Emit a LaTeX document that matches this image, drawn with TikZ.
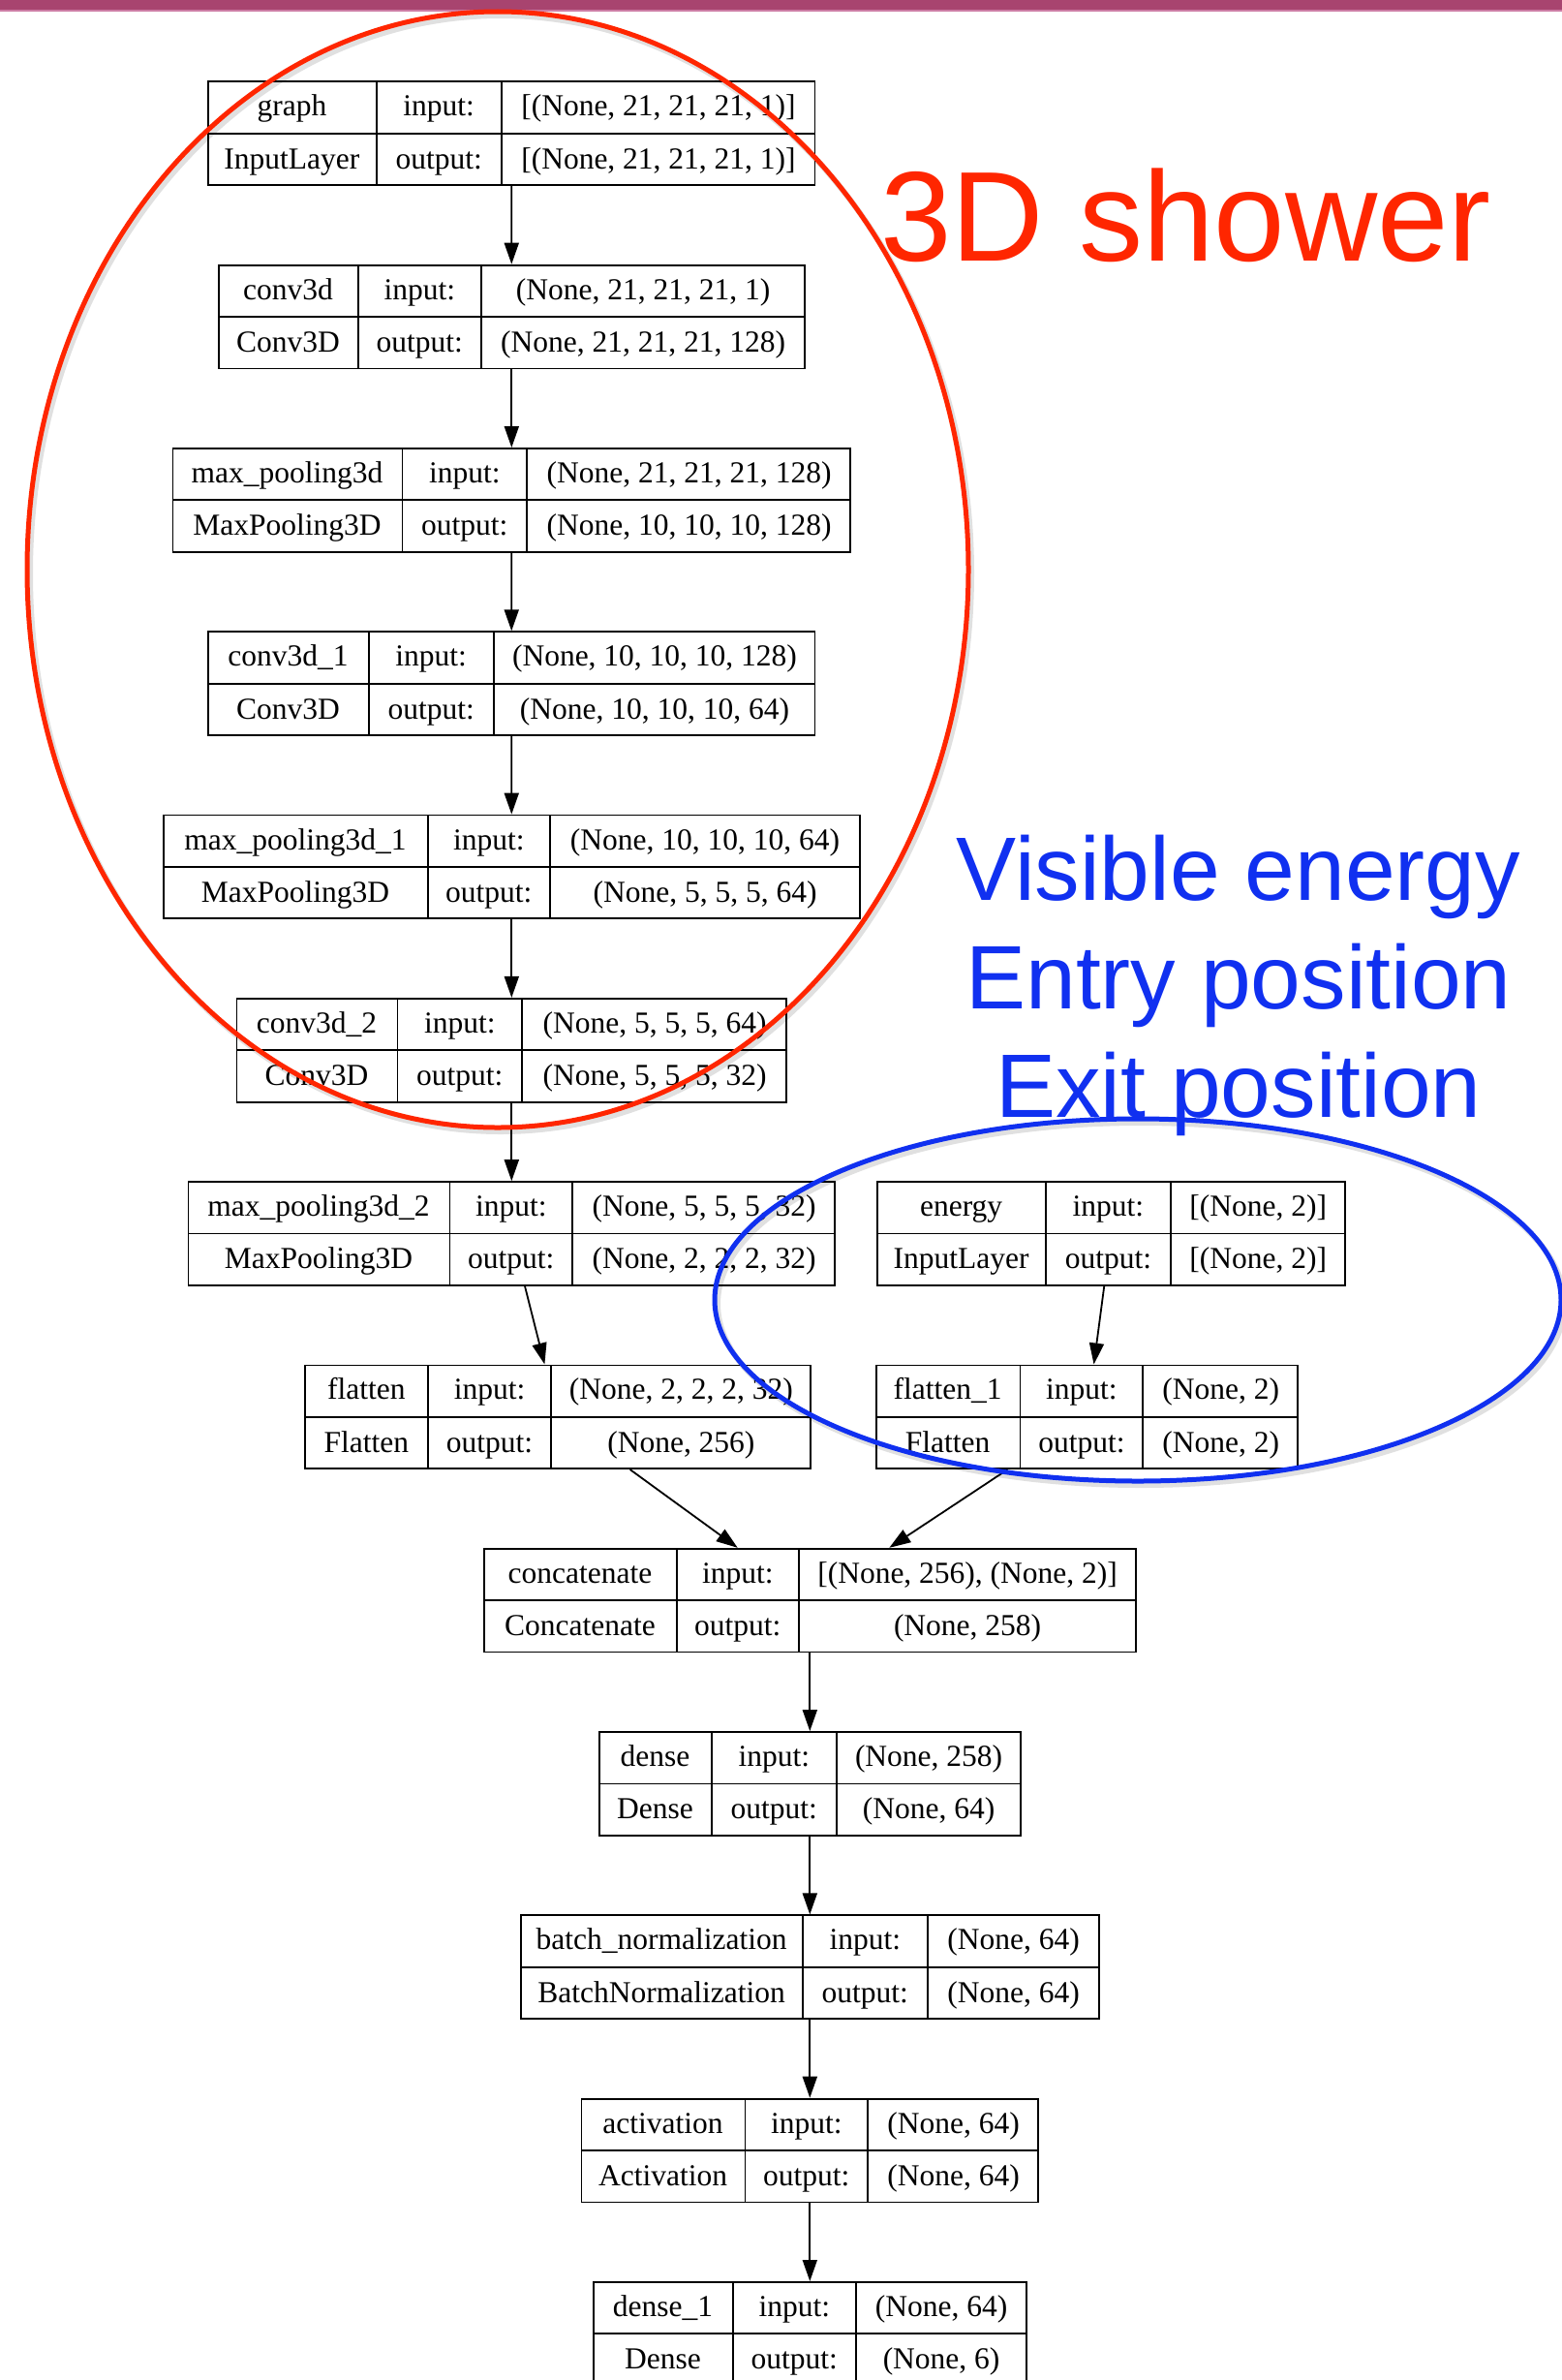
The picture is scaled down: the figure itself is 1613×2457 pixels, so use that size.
\documentclass[tikz,border=0pt]{standalone}
\usepackage{fontspec}
\setmainfont{Liberation Serif}
\newfontfamily\slidefont{Liberation Sans}
\usepackage{array}
\usetikzlibrary{arrows.meta}

\definecolor{slidebar}{RGB}{168,68,111}
\definecolor{slidebarlight}{RGB}{205,125,165}
\definecolor{ringred}{RGB}{255,38,0}
\definecolor{ringblue}{RGB}{16,48,240}

% one keras layer: three columns, two rows
\newcolumntype{C}[1]{>{\centering\arraybackslash}p{#1}}
\newcommand{\rowstrut}{\rule[-17pt]{0pt}{52.5pt}}
\newcommand{\layertab}[7]{%
  \begin{tabular}{C{#1pt}|C{#2pt}|C{#3pt}}
    \rowstrut #4 & input: & #6 \\ \hline
    \rowstrut #5 & output: & #7
  \end{tabular}}
\setlength{\tabcolsep}{0pt}
\setlength{\arrayrulewidth}{1.8pt}

\begin{document}
\begin{tikzpicture}[x=1pt, y=-1pt, >={Triangle[length=22pt,width=15pt]},
    layer/.style={draw, line width=1.8pt, inner sep=0pt, font=\fontsize{31.5}{36}\selectfont},
    flow/.style={->, line width=1.8pt},
    ring/.style={line width=5pt},
    ringshadow/.style={line width=6pt, black, opacity=0.12}]
    \useasboundingbox (0,0) rectangle (1613,2457);
    \clip (0,0) rectangle (1613,2457);

    % slide header bar
    \fill[slidebar] (0,0) rectangle (1613,10);
    \fill[slidebarlight] (0,10) rectangle (1613,12);

    % shower branch
    \node[layer] (graph) at (528.2,137.7)
        {\layertab{173}{127}{323}{graph}{InputLayer}{[(None, 21, 21, 21, 1)]}{[(None, 21, 21, 21, 1)]}};
    \node[layer] (conv3d) at (528.3,327.0)
        {\layertab{143}{125}{333}{conv3d}{Conv3D}{(None, 21, 21, 21, 1)}{(None, 21, 21, 21, 128)}};
    \node[layer] (maxpool3d) at (528.3,516.3)
        {\layertab{236}{127}{333}{max\_pooling3d}{MaxPooling3D}{(None, 21, 21, 21, 128)}{(None, 10, 10, 10, 128)}};
    \node[layer] (conv3d1) at (528.2,705.6)
        {\layertab{165}{127}{331}{conv3d\_1}{Conv3D}{(None, 10, 10, 10, 128)}{(None, 10, 10, 10, 64)}};
    \node[layer] (maxpool3d1) at (528.3,894.9)
        {\layertab{272}{124}{319}{max\_pooling3d\_1}{MaxPooling3D}{(None, 10, 10, 10, 64)}{(None, 5, 5, 5, 64)}};
    \node[layer] (conv3d2) at (528.3,1084.2)
        {\layertab{165}{127}{272}{conv3d\_2}{Conv3D}{(None, 5, 5, 5, 64)}{(None, 5, 5, 5, 32)}};
    \node[layer] (maxpool3d2) at (528.3,1273.5)
        {\layertab{269}{125}{270}{max\_pooling3d\_2}{MaxPooling3D}{(None, 5, 5, 5, 32)}{(None, 2, 2, 2, 32)}};
    \node[layer] (flatten) at (576.1,1462.8)
        {\layertab{126}{125}{267}{flatten}{Flatten}{(None, 2, 2, 2, 32)}{(None, 256)}};

    % scalar branch
    \node[layer] (energy) at (1147.4,1273.5)
        {\layertab{173}{127}{179}{energy}{InputLayer}{[(None, 2)]}{[(None, 2)]}};
    \node[layer] (flatten1) at (1122.4,1462.8)
        {\layertab{148}{125}{159}{flatten\_1}{Flatten}{(None, 2)}{(None, 2)}};

    % merged head
    \node[layer] (concat) at (836.3,1652.1)
        {\layertab{198}{124}{347}{concatenate}{Concatenate}{[(None, 256), (None, 2)]}{(None, 258)}};
    \node[layer] (dense) at (836.3,1841.4)
        {\layertab{115}{127}{189}{dense}{Dense}{(None, 258)}{(None, 64)}};
    \node[layer] (batchnorm) at (836.3,2030.7)
        {\layertab{290}{127}{176}{batch\_normalization}{BatchNormalization}{(None, 64)}{(None, 64)}};
    \node[layer] (activation) at (836.3,2220.0)
        {\layertab{168}{125}{175}{activation}{Activation}{(None, 64)}{(None, 64)}};
    \node[layer] (dense1) at (836.3,2409.3)
        {\layertab{143}{125}{175}{dense\_1}{Dense}{(None, 64)}{(None, 6)}};

    \draw[flow] (graph) -- (conv3d);
    \draw[flow] (conv3d) -- (maxpool3d);
    \draw[flow] (maxpool3d) -- (conv3d1);
    \draw[flow] (conv3d1) -- (maxpool3d1);
    \draw[flow] (maxpool3d1) -- (conv3d2);
    \draw[flow] (conv3d2) -- (maxpool3d2);
    \draw[flow] (maxpool3d2) -- (flatten);
    \draw[flow] (energy) -- (flatten1);
    \draw[flow] (flatten) -- (concat);
    \draw[flow] (flatten1) -- (concat);
    \draw[flow] (concat) -- (dense);
    \draw[flow] (dense) -- (batchnorm);
    \draw[flow] (batchnorm) -- (activation);
    \draw[flow] (activation) -- (dense1);

    % hand-drawn highlight rings
    \draw[ringshadow] (517,592) ellipse [x radius=486, y radius=576];
    \draw[ring, ringred] (514,588) ellipse [x radius=486, y radius=576];
    \draw[ringshadow] (1178,1346) ellipse [x radius=437, y radius=187];
    \draw[ring, ringblue] (1175,1342) ellipse [x radius=437, y radius=187];

    \node[anchor=base west, inner sep=0pt, text=ringred,
        font=\slidefont\fontsize{132}{140}\selectfont] (shower) at (909,269) {3D shower};
    \node[anchor=base, inner sep=0pt, align=center, text=ringblue,
        font=\slidefont\fontsize{93}{112}\selectfont] (scalars) at (1279,1153)
        {Visible energy\\Entry position\\Exit position};
\end{tikzpicture}
\end{document}
